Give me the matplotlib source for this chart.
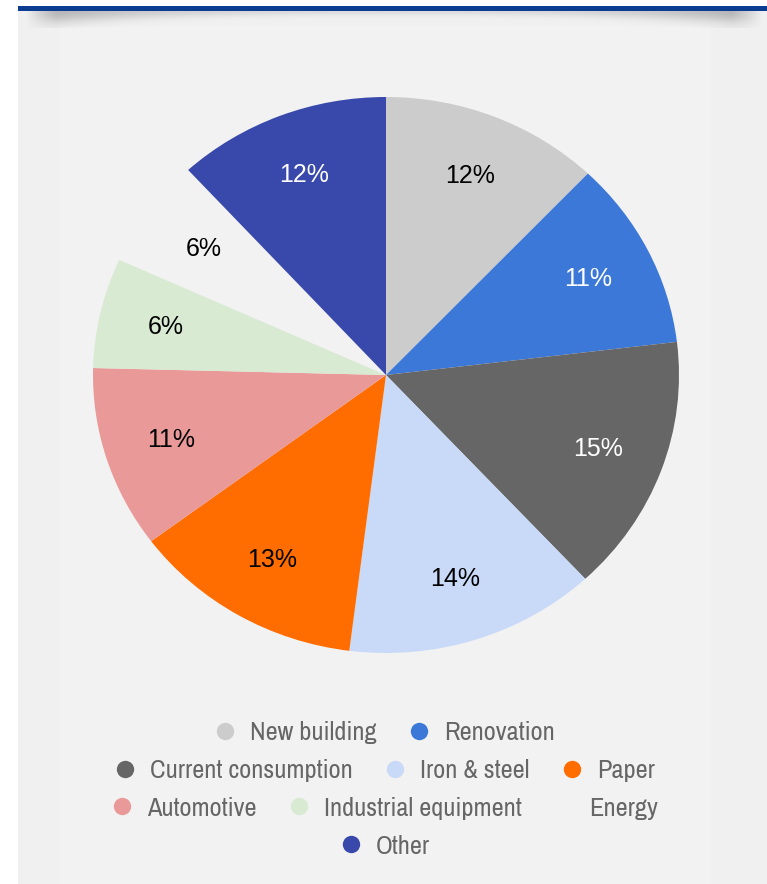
import matplotlib.pyplot as plt
from matplotlib.lines import Line2D
from matplotlib.patches import Rectangle
import numpy as np

# shares (clockwise from 12 o'clock)
sectors = ['New building', 'Renovation', 'Current consumption', 'Iron & steel', 'Paper',
           'Automotive', 'Industrial equipment', 'Energy', 'Other']
shares = [12.1, 11.0, 15.0, 13.9, 12.8, 10.6, 6.4, 6.4, 11.8]
colors = ['#cccccc', '#3c78d8', '#666666', '#c9daf8', '#ff6d01',
          '#ea9999', '#d9ead3', '#f2f2f2', '#3949ab']
label_colors = ['black', 'white', 'white', 'black', 'black',
                'black', 'black', 'black', 'white']

# how the legend wraps
legend_rows = [['New building', 'Renovation'],
               ['Current consumption', 'Iron & steel', 'Paper'],
               ['Automotive', 'Industrial equipment', 'Energy'],
               ['Other']]

narrow = ['Archivo Narrow', 'DejaVu Sans']
plain = ['Liberation Sans', 'DejaVu Sans']

W, H = 767, 884
fig = plt.figure(figsize=(W / 100, H / 100), dpi=100)
fig.patch.set_facecolor('white')

# grey panel (slightly lighter inner card)
fig.patches.append(Rectangle((18 / W, 0), 1, 1 - 8 / H, transform=fig.transFigure,
                             facecolor='#f0f0f0', edgecolor='none', zorder=-6))
fig.patches.append(Rectangle((60 / W, 0), 651 / W, 1 - 26 / H, transform=fig.transFigure,
                             facecolor='#f2f2f2', edgecolor='none', zorder=-5))

# soft shadow under the blue rule
sh = fig.add_axes([25 / W, 1 - 28 / H, 738 / W, 17 / H], zorder=-4)
sh.patch.set_visible(False)
xx = np.linspace(-1, 1, 400)
yy = np.linspace(0, 1, 40)
X, Y = np.meshgrid(xx, yy)
depth = 0.25 + 0.6 * np.abs(X) ** 3
alpha = 0.5 * depth * np.exp(-(Y / (0.25 + 0.6 * np.abs(X) ** 3)) ** 2)
alpha *= np.clip((1 - np.abs(X)) * 12, 0, 1)
rgba = np.zeros(X.shape + (4,))
rgba[..., :3] = 0.3
rgba[..., 3] = alpha
sh.imshow(rgba, aspect='auto', extent=(0, 1, 0, 1), origin='upper')
sh.axis('off')
fig.patches.append(Rectangle((18 / W, 1 - 11 / H), 1, 5 / H, transform=fig.transFigure,
                             facecolor='#0b3c91', edgecolor='none', zorder=3))

cx, cy, rx, ry = 386, 375, 293, 278
ax = fig.add_axes([(cx - rx) / W, (H - cy - ry) / H, 2 * rx / W, 2 * ry / H])
wedges, texts, autotexts = ax.pie(shares, colors=colors, startangle=90, counterclock=False,
                                  autopct='%.0f%%', pctdistance=0.77,
                                  wedgeprops=dict(linewidth=0),
                                  textprops=dict(fontsize=18, family=plain))
for t, c in zip(autotexts, label_colors):
    t.set_color(c)
ax.set_aspect('auto')
ax.set_xlim(-1, 1)
ax.set_ylim(-1, 1)
ax.axis('off')

col = dict(zip(sectors, colors))
row_y = [733, 771, 808, 846]
for row, y in zip(legend_rows, row_y):
    handles = [Line2D([], [], linestyle='none', marker='o', markersize=12.5,
                      markerfacecolor=col[n], markeredgecolor='none') for n in row]
    fig.legend(handles, row, loc='center', bbox_to_anchor=(0.5, 1 - y / H),
               ncol=len(row), frameon=False, labelcolor='#666666',
               prop=dict(family=narrow, size=19), handlelength=1.0,
               handletextpad=0.45, columnspacing=1.1, borderpad=0)

fig.savefig('out.png', dpi=100, facecolor='white')
